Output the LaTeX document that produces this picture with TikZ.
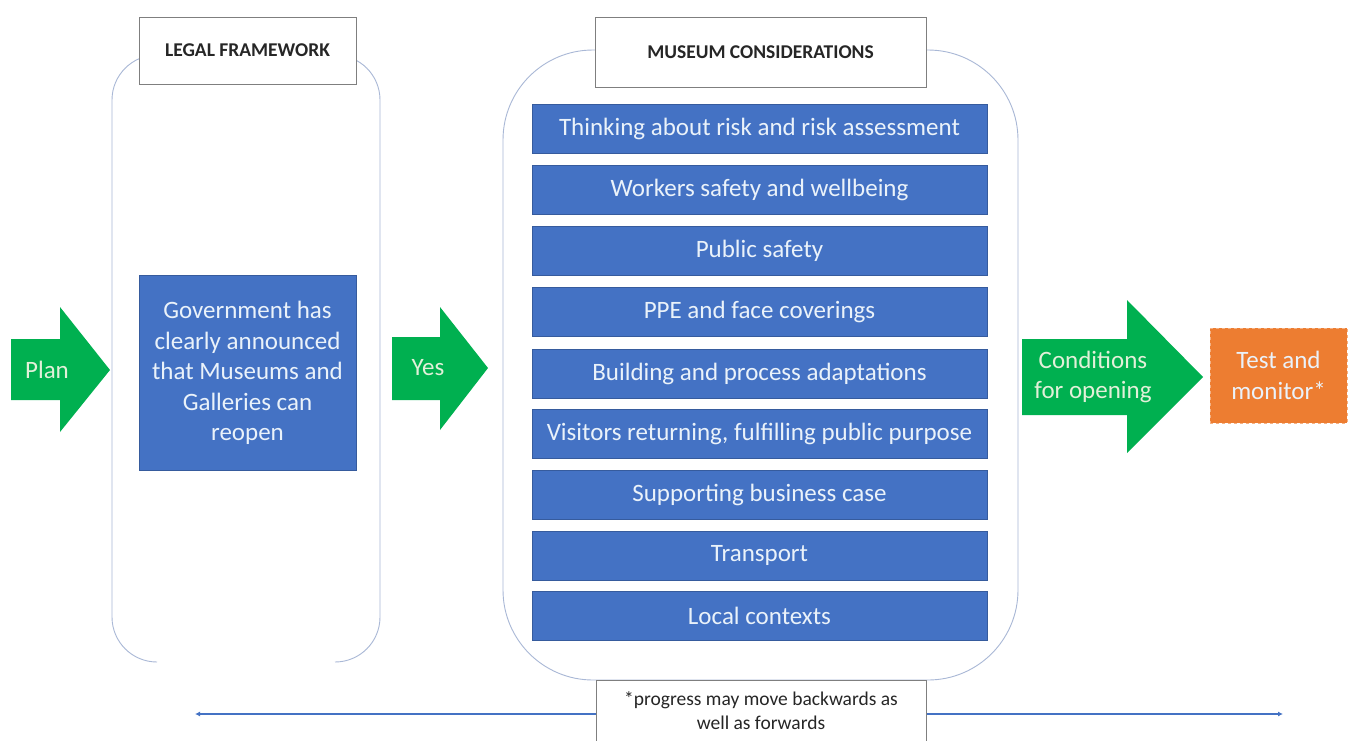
\documentclass[tikz,border=0pt]{standalone}
\usepackage{fontspec}
\setmainfont{Carlito}
\usetikzlibrary{arrows.meta}
\definecolor{gblue}{HTML}{4472C4}
\definecolor{ggreen}{HTML}{00B050}
\definecolor{gorange}{HTML}{ED7D31}
\definecolor{gorangeline}{HTML}{F4B183}
\definecolor{frameline}{HTML}{A9B8D6}
\definecolor{labelline}{HTML}{7F7F7F}
\definecolor{txtlight}{HTML}{EAF2FA}
\definecolor{greentxt}{HTML}{E2F0D9}
\begin{document}
\begin{tikzpicture}[x=1pt,y=-1pt,
  framebox/.style={draw=frameline, line width=0.9pt},
  labelbox/.style={draw=labelline, fill=white, line width=0.8pt, inner sep=0pt, font=\fontsize{19.5}{22}\selectfont\bfseries, text=black!85},
  bluebox/.style={fill=gblue, draw=gblue!80!black, line width=0.4pt, minimum width=455pt, minimum height=49pt, inner sep=0pt, text=txtlight, font=\fontsize{25}{30}\selectfont},
  greenarrow/.style={fill=ggreen},
  arrowtext/.style={text=greentxt, font=\fontsize{25}{30.5}\selectfont, align=center, inner sep=0pt},
  notebox/.style={draw=labelline, fill=white, line width=0.8pt, inner sep=0pt, font=\fontsize{19.5}{24}\selectfont, align=center, text=black!85},
  progline/.style={draw=gblue, line width=1.6pt, {Latex[length=5pt,width=5pt]}-{Latex[length=5pt,width=5pt]}}
]
\useasboundingbox (0,0) rectangle (1352,740);
\fill[white] (0,0) rectangle (1352,740);

% frames
\draw[framebox, rounded corners=45pt] (157,662) -- (112,662) -- (112,55) -- (380,55) -- (380,662) -- (335,662);
\draw[framebox, rounded corners=90pt] (503,680) -- (503,50) -- (1018,50) -- (1018,680) -- cycle;

% bottom progress line
\coordinate (pl) at (195,714);
\coordinate (pr) at (1283,714);
\draw[progline] (pl) -- (pr);

% labels
\node[labelbox, minimum width=217pt, minimum height=67pt] (legal) at (247.5,50.5) {LEGAL FRAMEWORK};
\node[labelbox, minimum width=331pt, minimum height=70pt] (museum) at (760.5,52) {MUSEUM CONSIDERATIONS};

% government box
\node[bluebox, minimum width=217pt, minimum height=195pt, align=center, font=\fontsize{25}{30.5}\selectfont] (gov) at (247.5,373)
  {Government has\\clearly announced\\that Museums and\\Galleries can\\reopen};

% museum considerations
\node[bluebox] (c1) at (759.5,128.5) {Thinking about risk and risk assessment};
\node[bluebox] (c2) at (759.5,189.5) {Workers safety and wellbeing};
\node[bluebox] (c3) at (759.5,250.5) {Public safety};
\node[bluebox] (c4) at (759.5,312) {PPE and face coverings};
\node[bluebox] (c5) at (759.5,373.5) {Building and process adaptations};
\node[bluebox] (c6) at (759.5,434) {Visitors returning, fulfilling public purpose};
\node[bluebox] (c7) at (759.5,494.5) {Supporting business case};
\node[bluebox] (c8) at (759.5,555.5) {Transport};
\node[bluebox] (c9) at (759.5,616) {Local contexts};

% green arrows
\fill[greenarrow] (11,339) -- (60,339) -- (60,307) -- (110,370) -- (60,432) -- (60,400) -- (11,400) -- cycle;
\node[arrowtext] (plan) at (47,370) {Plan};
\fill[greenarrow] (392,337) -- (440,337) -- (440,307) -- (488,368) -- (440,430) -- (440,400) -- (392,400) -- cycle;
\node[arrowtext] (yes) at (428,368) {Yes};
\fill[greenarrow] (1022,339) -- (1127,339) -- (1127,300) -- (1203,377) -- (1127,453) -- (1127,415) -- (1022,415) -- cycle;
\node[arrowtext] (cond) at (1093,377) {Conditions\\for opening};

% orange box
\node[fill=gorange, draw=gorangeline, dashed, line width=1pt, minimum width=137pt, minimum height=95pt, inner sep=0pt, align=center, text=txtlight, font=\fontsize{25}{30.5}\selectfont] (test) at (1278.5,375.5) {Test and\\monitor*};

% note box
\node[notebox, minimum width=330pt, minimum height=62pt] (note) at (761,711) {*progress may move backwards as\\well as forwards};
\end{tikzpicture}
\end{document}
